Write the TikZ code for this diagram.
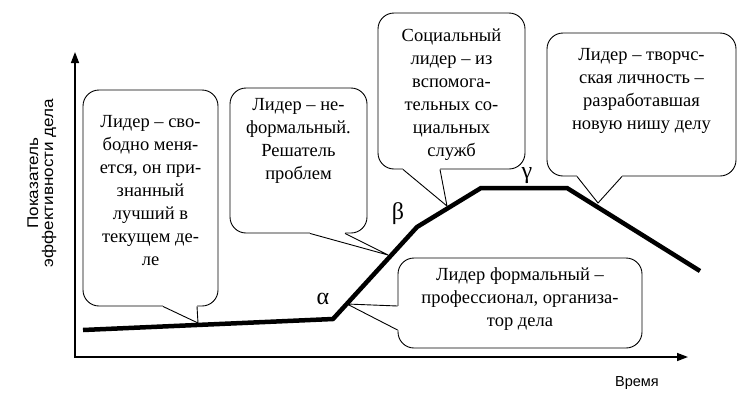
\documentclass[tikz,border=0pt]{standalone}
\usepackage{fontspec}
\usepackage{graphicx}
\setmainfont{Liberation Serif}
\setsansfont{Liberation Sans}
\usetikzlibrary{arrows.meta,calc}
\begin{document}
\begin{tikzpicture}[x=1pt,y=-1pt,
  bubble/.style={draw, line width=0.9pt, rounded corners=16pt, fill=white, inner sep=0pt},
  btext/.style={font=\fontsize{18.5}{23}\selectfont, align=center, inner sep=0pt},
  curve/.style={line width=4.5pt, line join=miter},
  greek/.style={font=\fontsize{24}{24}\selectfont, inner sep=0pt},
  tail/.style={line width=0.9pt},
  axlab/.style={font=\sffamily\fontsize{15.5}{15}\selectfont, inner sep=0pt, align=center}]
\useasboundingbox (0,0) rectangle (739,410);

% axes
\coordinate (O) at (75,357);
\coordinate (Ytop) at (75,52);
\coordinate (Xend) at (688,357);
\draw[line width=1.5pt, {Triangle[length=11pt,width=8pt]}-{Triangle[length=11pt,width=8pt]}] (Ytop) -- (O) -- (Xend);
\node[axlab, rotate=90] (ylab) at (42,183) {\scalebox{1.1}[1]{Показатель}\\\scalebox{1.1}[1]{эффективности дела}};
\node[axlab, font=\sffamily\fontsize{14.5}{14.5}\selectfont] (xlab) at (637,383) {Время};

% curve
\coordinate (p0) at (83,330);
\coordinate (p1) at (333,319);
\coordinate (p2) at (417,227);
\coordinate (p3) at (481,188);
\coordinate (p4) at (567,188);
\coordinate (p5) at (700,271);
\draw[curve] (p0) -- (p1) -- (p2) -- (p3) -- (p4) -- (p5);

\node[greek] (alpha) at (323,299) {α};
\node[greek] (beta) at (398,214) {β};
\node[greek] (gamma) at (527,176) {γ};

% callout 1
\node[bubble, minimum width=135pt, minimum height=216pt] (c1) at (150.5,198) {};
\coordinate (c1a) at ($(c1.south)+(12.5,0)$);
\coordinate (c1b) at ($(c1.south)+(46.5,0)$);
\coordinate (c1t) at (198,323);
\fill[white] ($(c1a)+(0,-2)$) -- (c1a) -- (c1t) -- (c1b) -- ($(c1b)+(0,-2)$) -- cycle;
\draw[tail] (c1a) -- (c1t) -- (c1b);
\node[btext] (c1txt) at (150.5,191) {Лидер – сво-\\бодно меня-\\ется, он при-\\знанный\\лучший в\\текущем де-\\ле};

% callout 2
\node[bubble, minimum width=137pt, minimum height=145pt] (c2) at (298.5,160.5) {};
\coordinate (c2a) at ($(c2.south)+(11.5,0)$);
\coordinate (c2b) at ($(c2.south)+(46.5,0)$);
\coordinate (c2t) at (388,255);
\fill[white] ($(c2a)+(0,-2)$) -- (c2a) -- (c2t) -- (c2b) -- ($(c2b)+(0,-2)$) -- cycle;
\draw[tail] (c2a) -- (c2t) -- (c2b);
\node[btext] (c2txt) at (298.5,140.5) {Лидер – не-\\формальный.\\Решатель\\проблем};

% callout 3
\node[bubble, minimum width=147pt, minimum height=156pt] (c3) at (451.5,91) {};
\coordinate (c3a) at ($(c3.south)+(-48.5,0)$);
\coordinate (c3b) at ($(c3.south)+(-11.5,0)$);
\coordinate (c3t) at (447,206);
\fill[white] ($(c3a)+(0,-2)$) -- (c3a) -- (c3t) -- (c3b) -- ($(c3b)+(0,-2)$) -- cycle;
\draw[tail] (c3a) -- (c3t) -- (c3b);
\node[btext] (c3txt) at (451.5,95) {Социальный\\лидер – из\\вспомога-\\тельных со-\\циальных\\служб};

% callout 4
\node[bubble, minimum width=189pt, minimum height=143pt] (c4) at (641.5,104.5) {};
\coordinate (c4a) at ($(c4.south)+(-64.5,0)$);
\coordinate (c4b) at ($(c4.south)+(-19.5,0)$);
\coordinate (c4t) at (598,203);
\fill[white] ($(c4a)+(0,-2)$) -- (c4a) -- (c4t) -- (c4b) -- ($(c4b)+(0,-2)$) -- cycle;
\draw[tail] (c4a) -- (c4t) -- (c4b);
\node[btext] (c4txt) at (641.5,91) {Лидер – творчс-\\ская личность –\\разработавшая\\новую нишу делу};

% callout 5
\node[bubble, minimum width=244pt, minimum height=90pt] (c5) at (520,303) {};
\coordinate (c5a) at ($(c5.west)+(0,3)$);
\coordinate (c5b) at ($(c5.west)+(0,27)$);
\coordinate (c5t) at (347,304);
\fill[white] ($(c5a)+(2,0)$) -- (c5a) -- (c5t) -- (c5b) -- ($(c5b)+(2,0)$) -- cycle;
\draw[tail] (c5a) -- (c5t) -- (c5b);
\node[btext] (c5txt) at (520,299.5) {Лидер формальный –\\профессионал, организа-\\тор дела};
\end{tikzpicture}
\end{document}
